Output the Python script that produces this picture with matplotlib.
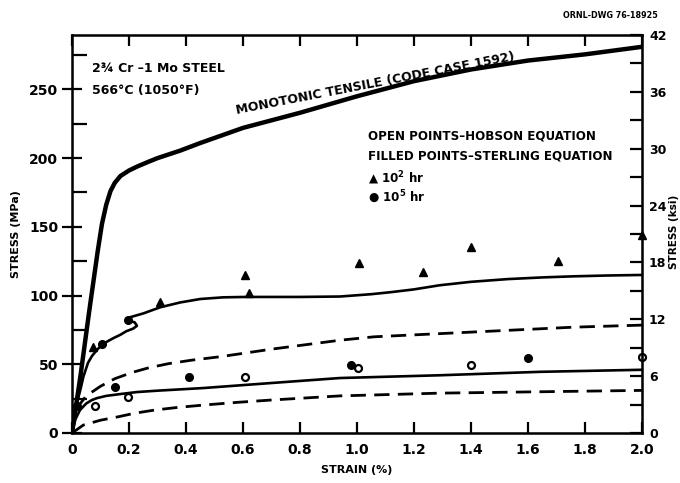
import numpy as np
import matplotlib.pyplot as plt
from matplotlib.ticker import MultipleLocator, FuncFormatter

# monotonic tensile curve (code case 1592)
mono_strain = [0, 0.03, 0.06, 0.09, 0.105, 0.12, 0.135, 0.15, 0.17, 0.2, 0.23, 0.27, 0.3, 0.38,
               0.45, 0.6, 0.8, 1.0, 1.2, 1.4, 1.6, 1.8, 2.0]
mono_stress = [0, 42, 88, 132, 152, 166, 176, 182, 187, 191, 194, 197.5, 200, 205.5,
               211, 222, 233, 245, 256, 264.5, 271, 275.5, 281]

# upper solid curve (with the kink near 0.2 %)
us_strain = [0, 0.01, 0.02, 0.03, 0.04, 0.056, 0.07, 0.09, 0.11, 0.145, 0.17, 0.19, 0.215, 0.228,
             0.22, 0.195, 0.2, 0.25, 0.31, 0.38, 0.45, 0.53, 0.61, 0.8, 0.94, 1.05, 1.12, 1.2,
             1.29, 1.4, 1.53, 1.65, 1.76, 1.88, 2.0]
us_stress = [0, 15, 24, 32, 41, 51, 56, 61, 65, 69, 71.5, 74, 76, 78,
             80.5, 82, 84, 87, 91.5, 95, 97.5, 98.7, 99, 99, 99.3, 101, 102.5, 104.5,
             107.5, 110, 112, 113.2, 114, 114.6, 115]

# upper dashed curve
ud_strain = [0, 0.01, 0.02, 0.05, 0.1, 0.15, 0.21, 0.27, 0.34, 0.42, 0.52, 0.7, 0.94, 1.06,
             1.41, 1.76, 2.0]
ud_stress = [0, 12, 19, 27, 34, 39.5, 44, 47.5, 50.5, 53, 55.5, 61, 67.5, 70,
             73.5, 77, 78.5]

# lower solid curve
ls_strain = [0, 0.012, 0.028, 0.05, 0.07, 0.088, 0.12, 0.168, 0.228, 0.3, 0.46, 0.695, 0.94,
             1.29, 1.64, 2.0]
ls_stress = [0, 10, 16.7, 21.5, 24, 25.4, 27, 28.3, 29.8, 30.8, 32.7, 36.3, 40,
             42, 44.5, 46]

# lower dashed curve
ld_strain = [0, 0.04, 0.1, 0.16, 0.22, 0.29, 0.37, 0.46, 0.58, 0.7, 0.94, 1.29, 1.64, 2.0]
ld_stress = [0, 5.8, 9.3, 11.7, 14.4, 16.7, 18.6, 20.3, 22.3, 24, 27, 29, 30, 31]

# points
tri_strain = [0.074, 0.31, 0.607, 0.62, 1.007, 1.23, 1.40, 1.705, 2.0]
tri_stress = [62.5, 95, 115, 102, 124, 117, 135, 125, 144]
fc_strain = [0.018, 0.105, 0.195, 0.15, 0.41, 0.98, 1.6]
fc_stress = [20, 65, 82, 33.5, 41, 49.5, 54.5]
oc_strain = [0.08, 0.197, 0.607, 1.005, 1.40, 2.0]
oc_stress = [20, 26, 40.5, 47, 49.5, 55]

xticks = [0, 0.2, 0.4, 0.6, 0.8, 1.0, 1.2, 1.4, 1.6, 1.8, 2.0]
ksi_max = 42
mpa_per_ksi = 6.895

plt.rcParams['font.family'] = 'DejaVu Sans'
plt.rcParams['font.weight'] = 'bold'

fig = plt.figure(figsize=(6.8, 4.83), dpi=100)
ax = fig.add_axes([72 / 680, 1 - 433 / 483, 570 / 680, 398 / 483])

ax.plot(mono_strain, mono_stress, color='black', lw=3.2, solid_capstyle='round',
        solid_joinstyle='round')
ax.plot(us_strain, us_stress, color='black', lw=1.9, solid_joinstyle='round')
ax.plot(ud_strain, ud_stress, color='black', lw=2.0, dashes=(5.5, 3))
ax.plot(ls_strain, ls_stress, color='black', lw=1.9, solid_joinstyle='round')
ax.plot(ld_strain, ld_stress, color='black', lw=2.0, dashes=(5.5, 3))

ax.plot(tri_strain, tri_stress, '^', color='black', ms=6, clip_on=False)
ax.plot(fc_strain, fc_stress, 'o', color='black', ms=5.5, clip_on=False)
ax.plot(oc_strain, oc_stress, 'o', mfc='white', mec='black', mew=1.6, ms=5, clip_on=False)

ax.set_xlim(0, 2.0)
ax.set_ylim(0, ksi_max * mpa_per_ksi)
ax.set_xticks(xticks)
ax.xaxis.set_major_formatter(FuncFormatter(lambda v, p: '0' if v == 0 else f'{v:.1f}'))
ax.yaxis.set_major_locator(MultipleLocator(50))
ax.yaxis.set_minor_locator(MultipleLocator(25))
ax.tick_params(axis='x', which='major', direction='in', length=8, width=1.6, top=True,
               labelsize=10, pad=7)
ax.tick_params(axis='y', which='major', direction='inout', length=14, width=1.6,
               labelsize=10, pad=3)
ax.tick_params(axis='y', which='minor', direction='in', length=11, width=1.6)
for s in ax.spines.values():
    s.set_linewidth(1.8)

ax2 = ax.twinx()
ax2.set_ylim(0, ksi_max)
ax2.yaxis.set_major_locator(MultipleLocator(6))
ax2.yaxis.set_minor_locator(MultipleLocator(3))
ax2.tick_params(axis='y', which='major', direction='in', length=9, width=1.6, labelsize=9, pad=5)
ax2.tick_params(axis='y', which='minor', direction='in', length=9, width=1.6)

ax.set_xlabel('STRAIN (%)', fontsize=8, fontweight='bold', labelpad=6)
ax.set_ylabel('STRESS (MPa)', fontsize=8, fontweight='bold', labelpad=6)
fig.text(674 / 680, 1 - 232 / 483, 'STRESS (ksi)', rotation=90, fontsize=7.5,
         fontweight='bold', ha='center', va='center')

ax.text(0.035, 0.915, '2¾ Cr –1 Mo STEEL', transform=ax.transAxes, fontsize=9,
        fontweight='bold', va='center')
ax.text(0.035, 0.86, '566°C (1050°F)', transform=ax.transAxes, fontsize=9,
        fontweight='bold', va='center')
ax.text(1.07, 250, 'MONOTONIC TENSILE (CODE CASE 1592)', fontsize=9, fontweight='bold',
        rotation=11, ha='center', va='bottom', rotation_mode='anchor')

fig.text(368 / 680, 1 - 136 / 483, 'OPEN POINTS–HOBSON EQUATION', fontsize=8.6,
         fontweight='bold', va='center')
fig.text(368 / 680, 1 - 156 / 483, 'FILLED POINTS–STERLING EQUATION', fontsize=8.6,
         fontweight='bold', va='center')
fig.text(368 / 680, 1 - 178 / 483, '▲ 10$^{\\mathbf{2}}$ hr', fontsize=8.6,
         fontweight='bold', va='center')
fig.text(368 / 680, 1 - 197 / 483, '● 10$^{\\mathbf{5}}$ hr', fontsize=8.6,
         fontweight='bold', va='center')

fig.text(563 / 680, 1 - 16 / 483, 'ORNL-DWG 76-18925', fontsize=5.8, fontweight='bold',
         va='center')

fig.savefig('out.png', dpi=100)
